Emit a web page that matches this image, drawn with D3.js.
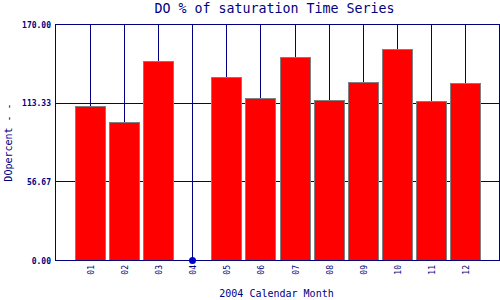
<!DOCTYPE html>
<html>
<head>
<meta charset="utf-8">
<script src="https://cdn.jsdelivr.net/npm/d3@7"></script>
<style>
  body { margin: 0; background: #fff; }
  svg { display: block; }
  text { font-family: "DejaVu Sans Mono", monospace; fill: #000080; }
</style>
</head>
<body>
<svg id="chart" width="500" height="300"></svg>
<script>
// chart data
var months = ["01","02","03","04","05","06","07","08","09","10","11","12"];
var doValues = [111.4, 100.1, 143.8, null, 132.3, 117.2, 146.7, 115.8, 128.7, 152.5, 115.0, 128.0];
var yTicks = [0, 56.67, 113.33, 170];

var navy = "#000080";
var svg = d3.select("#chart");
var plotLeft = 55.5, plotRight = 499.5, plotTop = 24.5, plotBottom = 260.5;

var x = d3.scaleLinear().domain([0, 13]).range([plotLeft, plotRight]);
var y = d3.scaleLinear().domain([0, 170]).range([plotBottom, plotTop]);

var data = months.map(function(m, i) { return {label: m, idx: i + 1, v: doValues[i]}; });

// vertical grid lines at each month
svg.append("g").selectAll("line.vgrid")
  .data(data).enter().append("line")
  .attr("class", "vgrid")
  .attr("x1", function(d) { return Math.round(x(d.idx)) + 0.5; })
  .attr("x2", function(d) { return Math.round(x(d.idx)) + 0.5; })
  .attr("y1", plotTop).attr("y2", plotBottom)
  .attr("stroke", navy).attr("stroke-width", 1);

// horizontal grid lines
svg.append("g").selectAll("line.hgrid")
  .data(yTicks).enter().append("line")
  .attr("class", "hgrid")
  .attr("x1", plotLeft).attr("x2", plotRight)
  .attr("y1", function(d) { return Math.round(y(d) - 0.5) + 0.5; })
  .attr("y2", function(d) { return Math.round(y(d) - 0.5) + 0.5; })
  .attr("stroke", navy).attr("stroke-width", 1);

// bars
var barW = 30;
svg.append("g").selectAll("rect.bar")
  .data(data.filter(function(d) { return d.v != null; })).enter().append("rect")
  .attr("class", "bar")
  .attr("x", function(d) { return Math.round(x(d.idx)) - barW / 2 + 0.5; })
  .attr("y", function(d) { return Math.round(y(d.v)) + 0.5; })
  .attr("width", barW)
  .attr("height", function(d) { return plotBottom - Math.round(y(d.v)) - 0.5; })
  .attr("fill", "#FF0000")
  .attr("stroke", "#808080")
  .attr("stroke-width", 1);

// frame
svg.append("rect")
  .attr("x", plotLeft).attr("y", plotTop)
  .attr("width", plotRight - plotLeft).attr("height", plotBottom - plotTop)
  .attr("fill", "none").attr("stroke", navy).attr("stroke-width", 1);

// missing value marker
svg.append("g").selectAll("circle.miss")
  .data(data.filter(function(d) { return d.v == null; })).enter().append("circle")
  .attr("class", "miss")
  .attr("cx", function(d) { return Math.round(x(d.idx)) + 0.5; })
  .attr("cy", y(0))
  .attr("r", 3.5)
  .attr("fill", "#0000CC");

// y axis labels
svg.append("g").selectAll("text.ytick")
  .data(yTicks).enter().append("text")
  .attr("class", "ytick")
  .attr("x", 51)
  .attr("y", function(d) { return y(d) + 3; })
  .attr("text-anchor", "end")
  .style("font-size", "8px").style("font-weight", "bold")
  .text(function(d) { return d.toFixed(2); });

// x axis labels (rotated)
svg.append("g").selectAll("text.xtick")
  .data(data).enter().append("text")
  .attr("class", "xtick")
  .attr("transform", function(d) { return "translate(" + (Math.round(x(d.idx)) + 3.5) + ",265) rotate(-90)"; })
  .attr("text-anchor", "end")
  .style("font-size", "8px")
  .text(function(d) { return d.label; });

// titles
svg.append("text")
  .attr("x", (plotLeft + plotRight) / 2 - 3).attr("y", 13)
  .attr("text-anchor", "middle")
  .style("font-size", "13.3px")
  .text("DO % of saturation Time Series");

svg.append("text")
  .attr("x", (plotLeft + plotRight) / 2 - 1).attr("y", 297)
  .attr("text-anchor", "middle")
  .style("font-size", "10px")
  .text("2004 Calendar Month");

svg.append("text")
  .attr("transform", "translate(12," + ((plotTop + plotBottom) / 2) + ") rotate(-90)")
  .attr("text-anchor", "middle")
  .style("font-size", "10px")
  .text("DOpercent - -");
</script>
</body>
</html>
